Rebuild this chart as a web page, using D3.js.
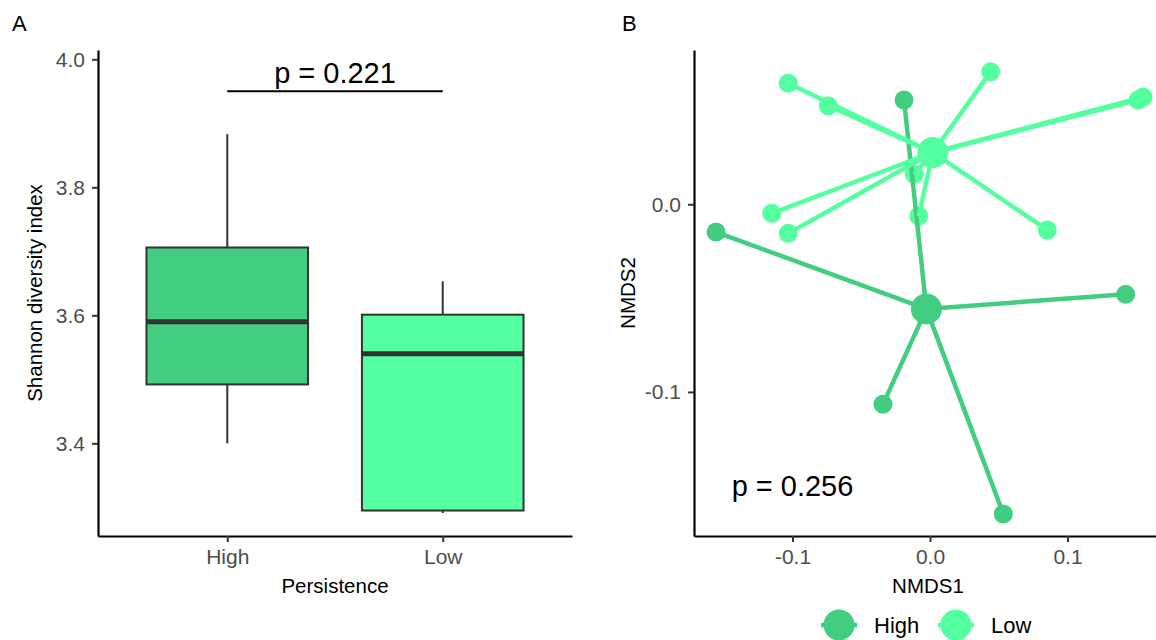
<!DOCTYPE html>
<html>
<head>
    <meta charset="utf-8">
    <title>Shannon diversity and NMDS</title>
    <style>
        body { margin: 0; background: #fff; }
        svg { font-family: "Liberation Sans", Arial, sans-serif; display: block; }
    </style>
</head>
<body>
    <script src="https://cdn.jsdelivr.net/npm/d3@7"></script>
    <script>
        // Panel A: box plot summaries
        var boxCategories = ["High", "Low"];
        var boxLower = [3.400, 3.291];
        var boxQ1 = [3.492, 3.295];
        var boxMedian = [3.590, 3.540];
        var boxQ3 = [3.706, 3.601];
        var boxUpper = [3.883, 3.653];
        var boxTicks = [3.4, 3.6, 3.8, 4.0];
        var boxP = "p = 0.221";
        var bracketY = 3.95;

        // Panel B: NMDS site scores
        var groups = ["High", "Low"];
        var highX = [-0.0189, -0.1556, 0.1423, -0.0342, 0.0533];
        var highY = [0.0556, -0.0148, -0.0480, -0.1066, -0.1650];
        var lowX = [-0.1031, -0.0740, 0.0441, 0.1513, 0.1549, -0.1151, -0.1031, -0.0114, -0.0082, 0.0853];
        var lowY = [0.0645, 0.0525, 0.0706, 0.0555, 0.0571, -0.0048, -0.0155, 0.0160, -0.0062, -0.0137];
        var nmdsXTicks = [-0.1, 0.0, 0.1];
        var nmdsYTicks = [-0.1, 0.0];
        var nmdsP = "p = 0.256";

        var colors = { High: "#43CD80", Low: "#54FF9F" };
        var fmt = function (d) { return d.toFixed(1); };

        var svg = d3.select("body").append("svg")
            .attr("width", 1156)
            .attr("height", 640);
        svg.append("rect").attr("width", 1156).attr("height", 640).attr("fill", "#fff");

        function styleAxis(g) {
            g.select(".domain").attr("stroke", "#000").attr("stroke-width", 2.2);
            g.selectAll(".tick line").attr("stroke", "#333").attr("stroke-width", 2);
            g.selectAll(".tick text").attr("fill", "#4D4D4D").style("font-size", "21px")
                .attr("font-family", null);
        }

        // ---------- Panel A ----------
        var panelTop = 50, panelBottom = 536;
        var xA = d3.scalePoint().domain(boxCategories).range([98, 572]).padding(0.6);
        var yA = d3.scaleLinear().domain([3.2552, 4.01453]).range([panelBottom, panelTop]);

        var gA = svg.append("g");
        var bw = xA.step() * 0.75;
        var boxes = boxCategories.map(function (c, i) {
            return { cat: c, lo: boxLower[i], q1: boxQ1[i], med: boxMedian[i], q3: boxQ3[i], hi: boxUpper[i] };
        });
        var bg = gA.selectAll(".box").data(boxes).enter().append("g");
        bg.append("line")
            .attr("x1", function (d) { return xA(d.cat); })
            .attr("x2", function (d) { return xA(d.cat); })
            .attr("y1", function (d) { return yA(d.hi); })
            .attr("y2", function (d) { return yA(d.q3); })
            .attr("stroke", "#333").attr("stroke-width", 2);
        bg.append("line")
            .attr("x1", function (d) { return xA(d.cat); })
            .attr("x2", function (d) { return xA(d.cat); })
            .attr("y1", function (d) { return yA(d.q1); })
            .attr("y2", function (d) { return yA(d.lo); })
            .attr("stroke", "#333").attr("stroke-width", 2);
        bg.append("rect")
            .attr("x", function (d) { return xA(d.cat) - bw / 2; })
            .attr("width", bw)
            .attr("y", function (d) { return yA(d.q3); })
            .attr("height", function (d) { return yA(d.q1) - yA(d.q3); })
            .attr("fill", function (d) { return colors[d.cat]; })
            .attr("stroke", "#333").attr("stroke-width", 2);
        bg.append("line")
            .attr("x1", function (d) { return xA(d.cat) - bw / 2; })
            .attr("x2", function (d) { return xA(d.cat) + bw / 2; })
            .attr("y1", function (d) { return yA(d.med); })
            .attr("y2", function (d) { return yA(d.med); })
            .attr("stroke", "#333").attr("stroke-width", 5);

        // significance bracket
        gA.append("line")
            .attr("x1", xA("High")).attr("x2", xA("Low"))
            .attr("y1", yA(bracketY)).attr("y2", yA(bracketY))
            .attr("stroke", "#000").attr("stroke-width", 2);
        gA.append("text")
            .attr("x", (xA("High") + xA("Low")) / 2)
            .attr("y", yA(bracketY) - 8)
            .attr("text-anchor", "middle")
            .style("font-size", "29px")
            .text(boxP);

        gA.append("g").attr("transform", "translate(98,0)")
            .call(d3.axisLeft(yA).tickValues(boxTicks).tickFormat(fmt).tickSize(6).tickSizeOuter(0).tickPadding(7))
            .call(styleAxis);
        gA.append("g").attr("transform", "translate(0," + panelBottom + ")")
            .call(d3.axisBottom(xA).tickSize(6).tickSizeOuter(0).tickPadding(7))
            .call(styleAxis);

        gA.append("text").attr("x", 335).attr("y", 593).attr("text-anchor", "middle")
            .style("font-size", "20.5px").text("Persistence");
        gA.append("text").attr("transform", "translate(42,293) rotate(-90)").attr("text-anchor", "middle")
            .style("font-size", "20.5px").text("Shannon diversity index");
        svg.append("text").attr("x", 12).attr("y", 31).style("font-size", "22px").text("A");

        // ---------- Panel B ----------
        var xB = d3.scaleLinear().domain([-0.17164, 0.16873]).range([694, 1162]);
        var yB = d3.scaleLinear().domain([-0.17677, 0.08221]).range([panelBottom, panelTop]);

        var pts = [];
        highX.forEach(function (v, i) { pts.push({ g: "High", x: v, y: highY[i] }); });
        lowX.forEach(function (v, i) { pts.push({ g: "Low", x: v, y: lowY[i] }); });
        var cent = {};
        groups.forEach(function (g) {
            var sub = pts.filter(function (p) { return p.g === g; });
            cent[g] = { g: g, x: d3.mean(sub, function (p) { return p.x; }), y: d3.mean(sub, function (p) { return p.y; }) };
        });

        var gB = svg.append("g");
        gB.selectAll(".pt").data(pts).enter().append("circle")
            .attr("cx", function (d) { return xB(d.x); })
            .attr("cy", function (d) { return yB(d.y); })
            .attr("r", 9.5)
            .attr("fill", function (d) { return colors[d.g]; });
        gB.selectAll(".seg").data(pts).enter().append("line")
            .attr("x1", function (d) { return xB(cent[d.g].x); })
            .attr("y1", function (d) { return yB(cent[d.g].y); })
            .attr("x2", function (d) { return xB(d.x); })
            .attr("y2", function (d) { return yB(d.y); })
            .attr("stroke", function (d) { return colors[d.g]; })
            .attr("stroke-width", 4.5);
        gB.selectAll(".cent").data(groups.map(function (g) { return cent[g]; })).enter().append("circle")
            .attr("cx", function (d) { return xB(d.x); })
            .attr("cy", function (d) { return yB(d.y); })
            .attr("r", 15.5)
            .attr("fill", function (d) { return colors[d.g]; });

        gB.append("text")
            .attr("x", xB(-0.1)).attr("y", yB(-0.15))
            .attr("dy", "0.36em")
            .attr("text-anchor", "middle")
            .style("font-size", "29px")
            .text(nmdsP);

        gB.append("g").attr("transform", "translate(694,0)")
            .call(d3.axisLeft(yB).tickValues(nmdsYTicks).tickFormat(fmt).tickSize(6).tickSizeOuter(0).tickPadding(7))
            .call(styleAxis);
        gB.append("g").attr("transform", "translate(0," + panelBottom + ")")
            .call(d3.axisBottom(xB).tickValues(nmdsXTicks).tickFormat(fmt).tickSize(6).tickSizeOuter(0).tickPadding(7))
            .call(styleAxis);

        gB.append("text").attr("x", 928).attr("y", 593).attr("text-anchor", "middle")
            .style("font-size", "20.5px").text("NMDS1");
        gB.append("text").attr("transform", "translate(635,293) rotate(-90)").attr("text-anchor", "middle")
            .style("font-size", "20.5px").text("NMDS2");
        svg.append("text").attr("x", 622).attr("y", 31).style("font-size", "22px").text("B");

        // legend
        var legX = [839, 956];
        var lg = svg.selectAll(".leg").data(groups).enter().append("g")
            .attr("transform", function (d, i) { return "translate(" + legX[i] + ",625)"; });
        lg.append("line").attr("x1", -18).attr("x2", 18)
            .attr("stroke", function (d) { return colors[d]; }).attr("stroke-width", 4.5);
        lg.append("circle").attr("r", 15.5).attr("fill", function (d) { return colors[d]; });
        lg.append("text").attr("x", 35).attr("dy", "0.36em")
            .style("font-size", "22px").text(function (d) { return d; });
    </script>
</body>
</html>
